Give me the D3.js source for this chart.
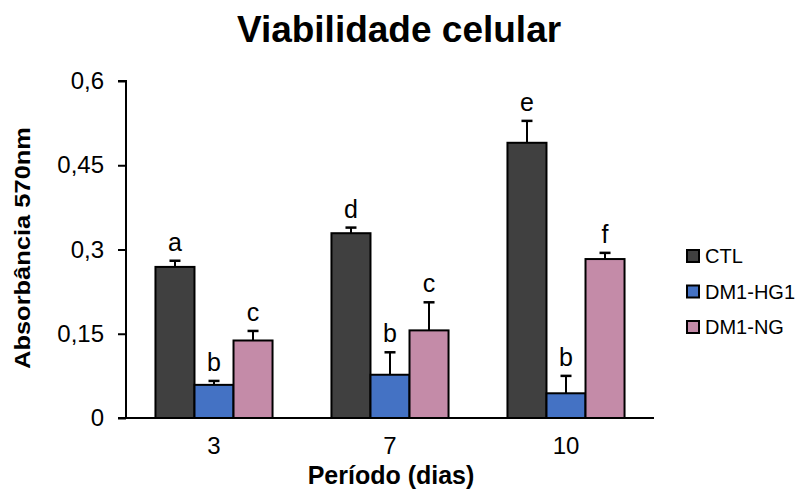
<!DOCTYPE html>
<html>
<head>
<meta charset="utf-8">
<script src="https://cdn.jsdelivr.net/npm/d3@7"></script>
<style>
  html, body { margin: 0; padding: 0; background: #fff; }
  svg { display: block; }
  text { font-family: "Liberation Sans", Arial, sans-serif; fill: #000; }
</style>
</head>
<body>
<svg id="chart" width="800" height="501"></svg>
<script>
const categories = ["3", "7", "10"];
const seriesNames = ["CTL", "DM1-HG1", "DM1-NG"];
const ctlValues = [0.269, 0.329, 0.490];
const hg1Values = [0.059, 0.077, 0.044];
const ngValues  = [0.138, 0.156, 0.283];
const ctlErrors = [0.011, 0.010, 0.039];
const hg1Errors = [0.007, 0.040, 0.031];
const ngErrors  = [0.017, 0.050, 0.011];
const ctlLetters = ["a", "d", "e"];
const hg1Letters = ["b", "b", "b"];
const ngLetters  = ["c", "c", "f"];
const yTicks = [0, 0.15, 0.3, 0.45, 0.6];
const colors = ["#404040", "#4472C4", "#C48BA8"];

const values = [ctlValues, hg1Values, ngValues];
const errors = [ctlErrors, hg1Errors, ngErrors];
const letters = [ctlLetters, hg1Letters, ngLetters];

const svg = d3.select("#chart");
const mLeft = 126, mRight = 654, mTop = 81, mBottom = 418;

const x0 = d3.scaleBand().domain(categories).range([mLeft, mRight]).paddingInner(0).paddingOuter(0);
const x1 = d3.scaleBand().domain(seriesNames).range([0, x0.bandwidth()]).paddingInner(0).paddingOuter(0.755);
const y = d3.scaleLinear().domain([0, 0.6]).range([mBottom, mTop]);
const color = d3.scaleOrdinal().domain(seriesNames).range(colors);

// Title
svg.append("text").attr("x", 399).attr("y", 42).attr("text-anchor", "middle")
  .style("font-size", "37px").style("font-weight", "bold").text("Viabilidade celular");

// Data rows
const rows = [];
categories.forEach((c, ci) => {
  seriesNames.forEach((s, si) => {
    rows.push({ cat: c, series: s, value: values[si][ci], err: errors[si][ci], letter: letters[si][ci] });
  });
});

const g = svg.append("g");
// Error bars
const eb = g.selectAll(".eb").data(rows).enter().append("g").attr("class", "eb");
eb.append("line")
  .attr("x1", d => x0(d.cat) + x1(d.series) + x1.bandwidth() / 2)
  .attr("x2", d => x0(d.cat) + x1(d.series) + x1.bandwidth() / 2)
  .attr("y1", d => y(d.value)).attr("y2", d => y(d.value + d.err))
  .attr("stroke", "#000").attr("stroke-width", 2);
eb.append("line")
  .attr("x1", d => x0(d.cat) + x1(d.series) + x1.bandwidth() / 2 - 5.5)
  .attr("x2", d => x0(d.cat) + x1(d.series) + x1.bandwidth() / 2 + 5.5)
  .attr("y1", d => y(d.value + d.err)).attr("y2", d => y(d.value + d.err))
  .attr("stroke", "#000").attr("stroke-width", 2.5);

// Bars
g.selectAll(".bar").data(rows).enter().append("rect").attr("class", "bar")
  .attr("x", d => x0(d.cat) + x1(d.series))
  .attr("y", d => y(d.value))
  .attr("width", x1.bandwidth())
  .attr("height", d => y(0) - y(d.value))
  .attr("fill", d => color(d.series))
  .attr("stroke", "#000").attr("stroke-width", 2);

// Letters
g.selectAll(".lt").data(rows).enter().append("text").attr("class", "lt")
  .attr("x", d => x0(d.cat) + x1(d.series) + x1.bandwidth() / 2)
  .attr("y", d => y(d.value + d.err) - 10)
  .attr("text-anchor", "middle").style("font-size", "25px")
  .text(d => d.letter);

// Y axis
const yAxis = d3.axisLeft(y).tickValues(yTicks).tickSize(8).tickPadding(14)
  .tickFormat(d => String(d).replace(".", ","));
const ya = svg.append("g").attr("transform", `translate(${mLeft},0)`).call(yAxis);
ya.select(".domain").attr("stroke", "#000").attr("stroke-width", 2).attr("d", `M-8,${mTop}H0V${mBottom}H-8`);
ya.selectAll(".tick line").attr("stroke", "#000").attr("stroke-width", 2);
ya.selectAll(".tick text").style("font-size", "24px").style("font-family", "'Liberation Sans', Arial, sans-serif").attr("fill", "#000");

// X axis
const xAxis = d3.axisBottom(x0).tickSize(0).tickPadding(19);
const xa = svg.append("g").attr("transform", `translate(0,${mBottom})`).call(xAxis);
xa.select(".domain").attr("stroke", "#000").attr("stroke-width", 2).attr("d", `M${mLeft},0H${mRight}`);
xa.selectAll(".tick text").style("font-size", "24px").style("font-family", "'Liberation Sans', Arial, sans-serif").attr("fill", "#000");

// Axis titles
svg.append("text").attr("x", 391).attr("y", 484).attr("text-anchor", "middle")
  .style("font-size", "25px").style("font-weight", "bold").text("Período (dias)");
svg.append("text").attr("transform", "translate(30,248) rotate(-90)").attr("text-anchor", "middle")
  .style("font-size", "22px").style("font-weight", "bold")
  .attr("textLength", 242).attr("lengthAdjust", "spacingAndGlyphs")
  .text("Absorbância 570nm");

// Legend
const leg = svg.append("g").selectAll("g").data(seriesNames).enter().append("g")
  .attr("transform", (d, i) => `translate(687,${256 + i * 35.5})`);
leg.append("rect").attr("x", 0).attr("y", -6).attr("width", 12).attr("height", 12)
  .attr("fill", d => color(d)).attr("stroke", "#000").attr("stroke-width", 2);
leg.append("text").attr("x", 18).attr("y", 0).attr("dy", "0.35em").style("font-size", "20px").text(d => d);
</script>
</body>
</html>
